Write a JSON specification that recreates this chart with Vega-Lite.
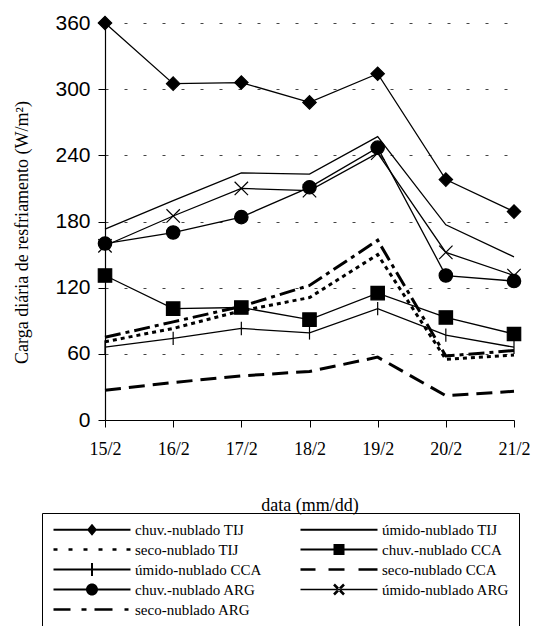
{
  "$schema": "https://vega.github.io/schema/vega-lite/v6.json",
  "width": 409,
  "height": 397,
  "autosize": {"type": "none"},
  "padding": {"left": 105, "top": 23, "right": 21, "bottom": 206},
  "background": "white",
  "config": {
    "view": {"stroke": null},
    "font": "Liberation Serif"
  },
  "data": {
    "values": [
      {"data": "15/2", "serie": "chuv.-nublado TIJ", "carga": 360},
      {"data": "16/2", "serie": "chuv.-nublado TIJ", "carga": 305},
      {"data": "17/2", "serie": "chuv.-nublado TIJ", "carga": 306},
      {"data": "18/2", "serie": "chuv.-nublado TIJ", "carga": 288},
      {"data": "19/2", "serie": "chuv.-nublado TIJ", "carga": 314},
      {"data": "20/2", "serie": "chuv.-nublado TIJ", "carga": 218},
      {"data": "21/2", "serie": "chuv.-nublado TIJ", "carga": 189},
      {"data": "15/2", "serie": "úmido-nublado TIJ", "carga": 173},
      {"data": "16/2", "serie": "úmido-nublado TIJ", "carga": 199},
      {"data": "17/2", "serie": "úmido-nublado TIJ", "carga": 224},
      {"data": "18/2", "serie": "úmido-nublado TIJ", "carga": 223},
      {"data": "19/2", "serie": "úmido-nublado TIJ", "carga": 257},
      {"data": "20/2", "serie": "úmido-nublado TIJ", "carga": 177},
      {"data": "21/2", "serie": "úmido-nublado TIJ", "carga": 148},
      {"data": "15/2", "serie": "seco-nublado TIJ", "carga": 71},
      {"data": "16/2", "serie": "seco-nublado TIJ", "carga": 83},
      {"data": "17/2", "serie": "seco-nublado TIJ", "carga": 99},
      {"data": "18/2", "serie": "seco-nublado TIJ", "carga": 111},
      {"data": "19/2", "serie": "seco-nublado TIJ", "carga": 150},
      {"data": "20/2", "serie": "seco-nublado TIJ", "carga": 55},
      {"data": "21/2", "serie": "seco-nublado TIJ", "carga": 59},
      {"data": "15/2", "serie": "chuv.-nublado CCA", "carga": 131},
      {"data": "16/2", "serie": "chuv.-nublado CCA", "carga": 101},
      {"data": "17/2", "serie": "chuv.-nublado CCA", "carga": 102},
      {"data": "18/2", "serie": "chuv.-nublado CCA", "carga": 91},
      {"data": "19/2", "serie": "chuv.-nublado CCA", "carga": 115},
      {"data": "20/2", "serie": "chuv.-nublado CCA", "carga": 93},
      {"data": "21/2", "serie": "chuv.-nublado CCA", "carga": 78},
      {"data": "15/2", "serie": "úmido-nublado CCA", "carga": 66},
      {"data": "16/2", "serie": "úmido-nublado CCA", "carga": 74},
      {"data": "17/2", "serie": "úmido-nublado CCA", "carga": 83},
      {"data": "18/2", "serie": "úmido-nublado CCA", "carga": 79},
      {"data": "19/2", "serie": "úmido-nublado CCA", "carga": 101},
      {"data": "20/2", "serie": "úmido-nublado CCA", "carga": 77},
      {"data": "21/2", "serie": "úmido-nublado CCA", "carga": 66},
      {"data": "15/2", "serie": "seco-nublado CCA", "carga": 27},
      {"data": "16/2", "serie": "seco-nublado CCA", "carga": 34},
      {"data": "17/2", "serie": "seco-nublado CCA", "carga": 40},
      {"data": "18/2", "serie": "seco-nublado CCA", "carga": 44},
      {"data": "19/2", "serie": "seco-nublado CCA", "carga": 57},
      {"data": "20/2", "serie": "seco-nublado CCA", "carga": 22},
      {"data": "21/2", "serie": "seco-nublado CCA", "carga": 26},
      {"data": "15/2", "serie": "chuv.-nublado ARG", "carga": 160},
      {"data": "16/2", "serie": "chuv.-nublado ARG", "carga": 170},
      {"data": "17/2", "serie": "chuv.-nublado ARG", "carga": 184},
      {"data": "18/2", "serie": "chuv.-nublado ARG", "carga": 211},
      {"data": "19/2", "serie": "chuv.-nublado ARG", "carga": 247},
      {"data": "20/2", "serie": "chuv.-nublado ARG", "carga": 131},
      {"data": "21/2", "serie": "chuv.-nublado ARG", "carga": 126},
      {"data": "15/2", "serie": "úmido-nublado ARG", "carga": 158},
      {"data": "16/2", "serie": "úmido-nublado ARG", "carga": 185},
      {"data": "17/2", "serie": "úmido-nublado ARG", "carga": 210},
      {"data": "18/2", "serie": "úmido-nublado ARG", "carga": 208},
      {"data": "19/2", "serie": "úmido-nublado ARG", "carga": 242},
      {"data": "20/2", "serie": "úmido-nublado ARG", "carga": 152},
      {"data": "21/2", "serie": "úmido-nublado ARG", "carga": 131},
      {"data": "15/2", "serie": "seco-nublado ARG", "carga": 75},
      {"data": "16/2", "serie": "seco-nublado ARG", "carga": 89},
      {"data": "17/2", "serie": "seco-nublado ARG", "carga": 103},
      {"data": "18/2", "serie": "seco-nublado ARG", "carga": 122},
      {"data": "19/2", "serie": "seco-nublado ARG", "carga": 163},
      {"data": "20/2", "serie": "seco-nublado ARG", "carga": 58},
      {"data": "21/2", "serie": "seco-nublado ARG", "carga": 63}
    ]
  },
  "encoding": {
    "x": {
      "field": "data",
      "type": "ordinal",
      "sort": ["15/2", "16/2", "17/2", "18/2", "19/2", "20/2", "21/2"],
      "scale": {"type": "point", "padding": 0},
      "title": "data (mm/dd)",
      "axis": {
        "labelAngle": 0,
        "labelFont": "Liberation Serif",
        "labelFontSize": 18,
        "labelColor": "black",
        "labelPadding": 13,
        "tickColor": "black",
        "tickSize": 7,
        "domainColor": "black",
        "domainWidth": 1.2,
        "grid": false,
        "titleFont": "Liberation Serif",
        "titleFontSize": 18,
        "titleFontWeight": "normal",
        "titleColor": "black",
        "titlePadding": 38
      }
    },
    "y": {
      "field": "carga",
      "type": "quantitative",
      "scale": {"domain": [0, 360], "nice": false},
      "title": "Carga diária de resfriamento (W/m²)",
      "axis": {
        "values": [0, 60, 120, 180, 240, 300, 360],
        "labelFont": "Liberation Sans",
        "labelFontSize": 21,
        "labelColor": "black",
        "labelPadding": 8,
        "tickColor": "black",
        "tickSize": 7,
        "domainColor": "black",
        "domainWidth": 1.2,
        "grid": true,
        "gridColor": "#444",
        "gridDash": [3, 16],
        "gridWidth": 1,
        "gridOpacity": 1,
        "titleFont": "Liberation Serif",
        "titleFontSize": 18,
        "titleFontWeight": "normal",
        "titleColor": "black",
        "titlePadding": 23,
        "titleY": 209
      }
    }
  },
  "layer": [
    {
      "transform": [
        {"filter": {"field": "serie", "oneOf": ["chuv.-nublado TIJ", "úmido-nublado TIJ", "chuv.-nublado CCA", "úmido-nublado CCA", "chuv.-nublado ARG", "úmido-nublado ARG"]}}
      ],
      "mark": {"type": "line", "color": "black", "strokeWidth": 1.3},
      "encoding": {"detail": {"field": "serie", "type": "nominal"}}
    },
    {
      "transform": [
        {"filter": {"field": "serie", "oneOf": ["seco-nublado TIJ", "seco-nublado CCA", "seco-nublado ARG"]}}
      ],
      "mark": {"type": "line", "color": "black", "strokeWidth": 3},
      "encoding": {
        "strokeDash": {
          "field": "serie",
          "type": "nominal",
          "scale": {
            "domain": ["seco-nublado TIJ", "seco-nublado CCA", "seco-nublado ARG"],
            "range": [[4, 4], [16, 8], [16, 5, 4, 5]]
          },
          "legend": null
        }
      }
    },
    {
      "transform": [
        {"filter": {"field": "serie", "oneOf": ["chuv.-nublado TIJ", "chuv.-nublado CCA", "úmido-nublado CCA", "chuv.-nublado ARG", "úmido-nublado ARG"]}}
      ],
      "mark": {"type": "point", "filled": true, "color": "black", "stroke": "black", "strokeWidth": 1.2, "opacity": 1, "size": 180},
      "encoding": {
        "shape": {
          "field": "serie",
          "type": "nominal",
          "scale": {
            "domain": ["chuv.-nublado TIJ", "chuv.-nublado CCA", "úmido-nublado CCA", "chuv.-nublado ARG", "úmido-nublado ARG"],
            "range": ["diamond", "square", "M0,-1V1", "circle", "M-1,-1L1,1M-1,1L1,-1"]
          },
          "legend": null
        }
      }
    },
    {
      "transform": [{"filter": "datum.carga < 0"}],
      "mark": {"type": "point", "filled": true, "color": "black", "opacity": 1},
      "encoding": {
        "shape": {
          "field": "serie",
          "type": "nominal",
          "scale": {
            "domain": ["chuv.-nublado TIJ", "úmido-nublado TIJ", "seco-nublado TIJ", "chuv.-nublado CCA", "úmido-nublado CCA", "seco-nublado CCA", "chuv.-nublado ARG", "úmido-nublado ARG", "seco-nublado ARG"],
            "range": [
              "M-1,-0.2H14.4V0.2H-1Z M5.7,0L6.7,-1.2L7.7,0L6.7,1.2Z",
              "M-1,-0.2H14.4V0.2H-1Z",
              "M-1,-0.25H-0.2V0.25H-1Z M2,-0.25H2.8V0.25H2Z M5,-0.25H5.8V0.25H5Z M8,-0.25H8.8V0.25H8Z M10.8,-0.25H11.6V0.25H10.8Z M13.6,-0.25H14.4V0.25H13.6Z",
              "M-1,-0.2H14.4V0.2H-1Z M5.6,-1.1H7.8V1.1H5.6Z",
              "M-1,-0.2H14.4V0.2H-1Z M6.5,-1.3H6.9V1.3H6.5Z",
              "M-1,-0.25H2V0.25H-1Z M4.6,-0.25H7.8V0.25H4.6Z M10.6,-0.25H14.4V0.25H10.6Z",
              "M-1,-0.2H14.4V0.2H-1Z M7.9,0A1.2,1.2 0 1,1 5.5,0A1.2,1.2 0 1,1 7.9,0Z",
              "M-1,-0.15H14.4V0.15H-1Z M5.52,-0.82L5.88,-1.18L7.88,0.82L7.52,1.18Z M5.52,0.82L5.88,1.18L7.88,-0.82L7.52,-1.18Z",
              "M-1,-0.25H2.4V0.25H-1Z M4.6,-0.25H5.6V0.25H4.6Z M7.2,-0.25H10.8V0.25H7.2Z M13.2,-0.25H14V0.25H13.2Z"
            ]
          },
          "legend": {
            "orient": "none",
            "direction": "horizontal",
            "legendX": -63,
            "legendY": 490,
            "columns": 2,
            "title": null,
            "strokeColor": "black",
            "padding": 9,
            "symbolSize": 100,
            "symbolStrokeWidth": 0,
            "labelFont": "Liberation Serif",
            "labelFontSize": 15,
            "labelColor": "black",
            "labelOffset": 69,
            "labelLimit": 0,
            "columnPadding": 36,
            "rowPadding": 4
          }
        }
      }
    }
  ],
  "resolve": {"scale": {"shape": "independent"}}
}
